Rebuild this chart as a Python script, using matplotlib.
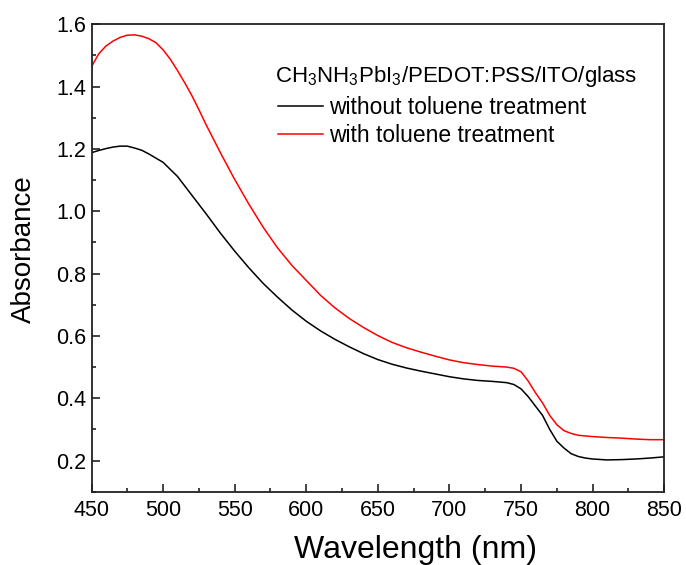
import matplotlib
matplotlib.use("Agg")
import matplotlib.pyplot as plt
from matplotlib.ticker import MultipleLocator

plt.rcParams['font.family'] = ['Liberation Sans', 'DejaVu Sans']
plt.rcParams['mathtext.fontset'] = 'custom'
plt.rcParams['mathtext.rm'] = 'Liberation Sans'
plt.rcParams['mathtext.it'] = 'Liberation Sans'

# Absorption spectra of CH3NH3PbI3/PEDOT:PSS/ITO/glass films
wl_without = [450, 455, 460, 465, 470, 475, 480, 485, 490, 500, 510, 520, 530,
              540, 550, 560, 570, 580, 590, 600, 610, 620, 630, 640, 650, 660,
              670, 680, 690, 700, 710, 720, 730, 740, 745, 750, 755, 760, 765,
              770, 775, 780, 785, 790, 795, 800, 810, 820, 830, 840, 850]
abs_without = [1.188, 1.195, 1.201, 1.206, 1.209, 1.209, 1.203, 1.196, 1.184,
               1.157, 1.112, 1.052, 0.992, 0.930, 0.872, 0.818, 0.768, 0.724,
               0.683, 0.647, 0.616, 0.589, 0.565, 0.543, 0.524, 0.509, 0.497,
               0.487, 0.478, 0.469, 0.462, 0.457, 0.454, 0.450, 0.444, 0.430,
               0.405, 0.375, 0.345, 0.300, 0.262, 0.240, 0.222, 0.213, 0.208,
               0.205, 0.202, 0.203, 0.205, 0.208, 0.212]

wl_with = [450, 455, 460, 465, 470, 475, 480, 485, 490, 495, 500, 505, 510, 515,
           520, 525, 530, 540, 550, 560, 570, 580, 590, 600, 610, 620, 630, 640,
           650, 660, 670, 680, 690, 700, 710, 720, 730, 740, 745, 750, 755, 760,
           765, 770, 775, 780, 785, 790, 800, 810, 820, 830, 840, 850]
abs_with = [1.464, 1.505, 1.530, 1.546, 1.558, 1.565, 1.566, 1.562, 1.554, 1.541,
            1.518, 1.488, 1.452, 1.413, 1.372, 1.326, 1.278, 1.188, 1.102, 1.022,
            0.948, 0.882, 0.826, 0.778, 0.730, 0.690, 0.656, 0.627, 0.601, 0.579,
            0.562, 0.548, 0.535, 0.523, 0.514, 0.508, 0.503, 0.500, 0.496, 0.485,
            0.455, 0.418, 0.385, 0.345, 0.315, 0.296, 0.287, 0.281, 0.277, 0.274,
            0.272, 0.269, 0.267, 0.267]

label_without = 'without toluene treatment'
label_with = 'with toluene treatment'
legend_title = r'CH$_3$NH$_3$PbI$_3$/PEDOT:PSS/ITO/glass'

fig = plt.figure(figsize=(6.86, 5.65), dpi=100)
ax = fig.add_axes([0.1334, 0.1297, 0.8349, 0.8273])

ax.plot(wl_without, abs_without, color='#000000', lw=1.1, label=label_without)
ax.plot(wl_with, abs_with, color='#ff0000', lw=1.1, label=label_with)

ax.set_xlim(450, 850)
ax.set_ylim(0.1, 1.6)
ax.xaxis.set_major_locator(MultipleLocator(50))
ax.xaxis.set_minor_locator(MultipleLocator(25))
ax.yaxis.set_minor_locator(MultipleLocator(0.1))
ax.set_yticks([0.2, 0.4, 0.6, 0.8, 1.0, 1.2, 1.4, 1.6])

ax.tick_params(which='both', direction='in', top=False, right=False,
               width=1.2, color='#222222', labelsize=15.5)
ax.tick_params(axis='x', pad=6)
ax.tick_params(axis='y', pad=4)
ax.tick_params(which='major', length=6)
ax.tick_params(which='minor', length=3)
for sp in ax.spines.values():
    sp.set_linewidth(1.3)
    sp.set_color('#222222')

ax.set_xlabel('Wavelength (nm)', fontsize=23)
ax.xaxis.set_label_coords(0.565, -0.092)
ax.set_ylabel('Absorbance', fontsize=20)
ax.yaxis.set_label_coords(-0.096, 0.519)

# sample stack heading above the legend entries
ax.text(0.320, 0.8766, legend_title, transform=ax.transAxes, fontsize=16,
        ha='left', va='baseline')

leg = ax.legend(loc='upper left', frameon=False, fontsize=16.5,
                handlelength=1.95, handletextpad=0.26, labelspacing=0.2,
                borderpad=0, borderaxespad=0,
                bbox_to_anchor=(0.3256, 0.8466))

fig.savefig('out.png', dpi=100)
